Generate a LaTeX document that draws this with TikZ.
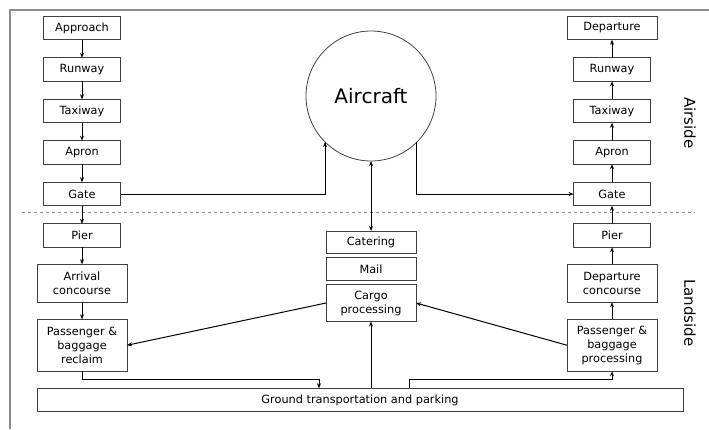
\documentclass[tikz,border=0pt]{standalone}
\usepackage{fontspec}
\setmainfont{DejaVu Sans}
\usetikzlibrary{arrows.meta, positioning}
\tikzset{
  stage/.style={rectangle, draw=black!75, line width=0.8pt, outer sep=0pt, minimum width=77pt, minimum height=23.5pt, inner sep=2pt, align=center, font=\fontsize{11.3}{14}\selectfont},
  widestage/.style={stage, minimum width=90pt},
  side/.style={rotate=-90, font=\fontsize{15}{18}\selectfont},
  arrow/.style={-{Stealth[length=5pt, width=4pt]}, line width=1pt, draw=black},
  dblarrow/.style={{Stealth[length=5pt, width=4pt]}-{Stealth[length=5pt, width=4pt]}, line width=1pt, draw=black}
}

\begin{document}
\begin{tikzpicture}[x=1pt, y=-1pt, node distance=18pt]
  \useasboundingbox (0,0) rectangle (709,429);
  % frame and airside/landside divide
  \draw[black!45, line width=1.2pt] (10,429) |- (709,10);
  \draw[black!45, dashed, line width=0.8pt] (22,212) -- (695,212);

  % arrivals
  \node[stage] (approach) at (82,28) {Approach};
  \node[stage, below=of approach] (runwayA) {Runway};
  \node[stage, below=of runwayA] (taxiwayA) {Taxiway};
  \node[stage, below=of taxiwayA] (apronA) {Apron};
  \node[stage, below=of apronA] (gateA) {Gate};
  \node[stage, below=of gateA] (pierA) {Pier};
  \node[widestage, minimum height=38pt, below=17pt of pierA] (arrival) {Arrival\\concourse};
  \node[widestage, minimum height=52pt, below=17pt of arrival] (reclaim) {Passenger \&\\baggage\\reclaim};

  % departures
  \node[widestage] (departure) at (612,28) {Departure};
  \node[stage, below=of departure] (runwayD) {Runway};
  \node[stage, below=of runwayD] (taxiwayD) {Taxiway};
  \node[stage, below=of taxiwayD] (apronD) {Apron};
  \node[stage, below=of apronD] (gateD) {Gate};
  \node[stage, below=of gateD] (pierD) {Pier};
  \node[widestage, minimum height=38pt, below=17pt of pierD] (concourseD) {Departure\\concourse};
  \node[widestage, minimum height=52pt, below=17pt of concourseD] (processD) {Passenger \&\\baggage\\processing};

  % centre
  \node[circle, draw=black!75, line width=0.8pt, outer sep=0pt, minimum size=130pt, inner sep=0pt, font=\fontsize{20}{24}\selectfont] (aircraft) at (371,96) {Aircraft};
  \node[widestage, minimum height=22pt] (catering) at (371,242) {Catering};
  \node[widestage, minimum height=23pt, below=4.5pt of catering] (mail) {Mail};
  \node[widestage, minimum height=37pt, below=4pt of mail] (cargo) {Cargo\\processing};
  \node[stage, minimum width=646pt] (ground) at (360,400) {Ground transportation and parking};

  \node[side] (airside) at (690,123) {Airside};
  \node[side] (landside) at (690,313) {Landside};

  \coordinate (dropL) at (319,379);
  \coordinate (riseR) at (409,379);

  \draw[arrow] (approach) -- (runwayA);
  \draw[arrow] (runwayA) -- (taxiwayA);
  \draw[arrow] (taxiwayA) -- (apronA);
  \draw[arrow] (apronA) -- (gateA);
  \draw[arrow] (gateA) -- (pierA);
  \draw[arrow] (pierA) -- (arrival);
  \draw[arrow] (arrival) -- (reclaim);

  \draw[arrow] (processD) -- (concourseD);
  \draw[arrow] (concourseD) -- (pierD);
  \draw[arrow] (pierD) -- (gateD);
  \draw[arrow] (gateD) -- (apronD);
  \draw[arrow] (apronD) -- (taxiwayD);
  \draw[arrow] (taxiwayD) -- (runwayD);
  \draw[arrow] (runwayD) -- (departure);

  \draw[arrow] (gateA.east) -| (aircraft.south west);
  \draw[arrow] (aircraft.south east) |- (gateD.west);
  \draw[dblarrow] (aircraft.south) -- (catering.north);

  \draw[arrow] (cargo.west) -- (reclaim.east);
  \draw[arrow] (processD.west) -- (cargo.east);

  \draw[arrow] (reclaim.south) |- (dropL) -- (dropL |- ground.north);
  \draw[arrow] (ground.north -| cargo.south) -- (cargo.south);
  \draw[arrow] (riseR |- ground.north) -- (riseR) -| (processD.south);
\end{tikzpicture}
\end{document}
